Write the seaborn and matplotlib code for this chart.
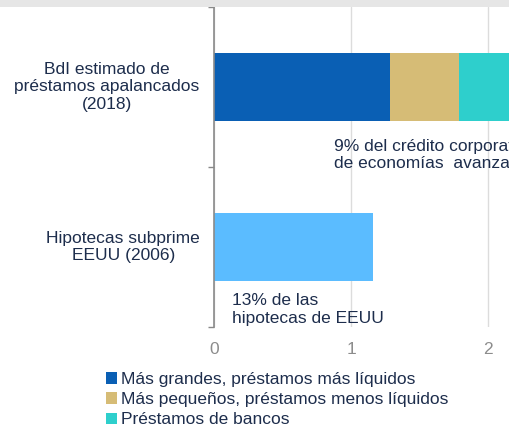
import matplotlib
matplotlib.use("Agg")
import matplotlib.pyplot as plt
from matplotlib.patches import Rectangle, Patch
import matplotlib.transforms as mtransforms
import seaborn as sns
import pandas as pd

# Valores (billones de USD)
categorias = ["BdI estimado de\npréstamos apalancados\n(2018)", "Hipotecas subprime\nEEUU (2006)"]
mas_grandes = [1.285, 0.0]
mas_pequenos = [0.505, 0.0]
bancos = [0.45, 0.0]
subprime = [0.0, 1.16]
series = ["Más grandes, préstamos más líquidos",
          "Más pequeños, préstamos menos líquidos",
          "Préstamos de bancos"]
colores = ["#0a5fb4", "#d6bc76", "#2ecfcc"]
color_subprime = "#5bbcff"
ticks_x = [0, 1, 2]

texto = "#1d2d4c"
fs = 12.5
sns.set_theme(style="white")
plt.rcParams["font.family"] = ["Liberation Sans", "DejaVu Sans"]

fig = plt.figure(figsize=(5.10, 4.32), dpi=100)
fig.patches.append(Rectangle((0, 1 - 7 / 432), 1, 7 / 432, transform=fig.transFigure,
                             facecolor="#e6e6e6", edgecolor="none", zorder=0))
ax = fig.add_axes([214 / 510, 1 - 327 / 432, 1 - 214 / 510, 320 / 432])

df = pd.DataFrame({"cat": categorias,
                   "a": mas_grandes,
                   "b": mas_pequenos,
                   "c": bancos,
                   "s": subprime})
df["ab"] = df["a"] + df["b"]
df["abc"] = df["ab"] + df["c"]

# Barras apiladas: se dibuja el acumulado de mayor a menor
for col, color in [("abc", colores[2]), ("ab", colores[1]), ("a", colores[0]), ("s", color_subprime)]:
    sns.barplot(data=df, y="cat", x=col, color=color, width=0.42, orient="h",
                saturation=1, ax=ax, zorder=3, linewidth=0)

ax.set_xlim(0, 2.16)
ax.set_ylim(1.5, -0.5)
ax.set_xticks(ticks_x)
ax.set_xticklabels([str(t) for t in ticks_x])
ax.set_yticks([-0.5, 0.5, 1.5])
ax.set_yticklabels([])
ax.tick_params(axis="y", length=4, width=1, color="#888888", left=True, direction="out")
ax.tick_params(axis="x", length=0, labelsize=fs, labelcolor="#8c8c8c", pad=11)
ax.set_xlabel("")
ax.set_ylabel("")

# Etiquetas de categoría centradas a la izquierda del eje
trans = mtransforms.blended_transform_factory(ax.transAxes, ax.transData)
for i, (lab, xc) in enumerate(zip(categorias, [-0.3615, -0.307])):
    ax.text(xc, i, lab, transform=trans, fontsize=fs, color=texto, ha="center",
            va="center", multialignment="center", linespacing=1.2, clip_on=False)

ax.grid(axis="x", color="#dcdcdc", linewidth=1, zorder=0)
for s in ["top", "right", "bottom"]:
    ax.spines[s].set_visible(False)
ax.spines["left"].set_color("#8a8a8a")
ax.spines["left"].set_linewidth(1.2)
ax.spines["left"].set_zorder(5)

ax.text(0.876, 0.325, "9% del crédito corporativo\nde economías  avanzadas",
        fontsize=fs, color=texto, va="top", ha="left", linespacing=1.2, zorder=4)
ax.text(0.13, 1.29, "13% de las\nhipotecas de EEUU",
        fontsize=fs, color=texto, va="top", ha="left", linespacing=1.2, zorder=4)

handles = [Patch(facecolor=c, edgecolor="none") for c in colores]
fig.legend(handles, series, loc="upper left", bbox_to_anchor=(106 / 510, 1 - 372 / 432),
           frameon=False, fontsize=fs, labelcolor=texto, handlelength=0.65, handleheight=0.65,
           handletextpad=0.2, labelspacing=0.3, borderpad=0, borderaxespad=0)

fig.savefig("out.png", dpi=100)
